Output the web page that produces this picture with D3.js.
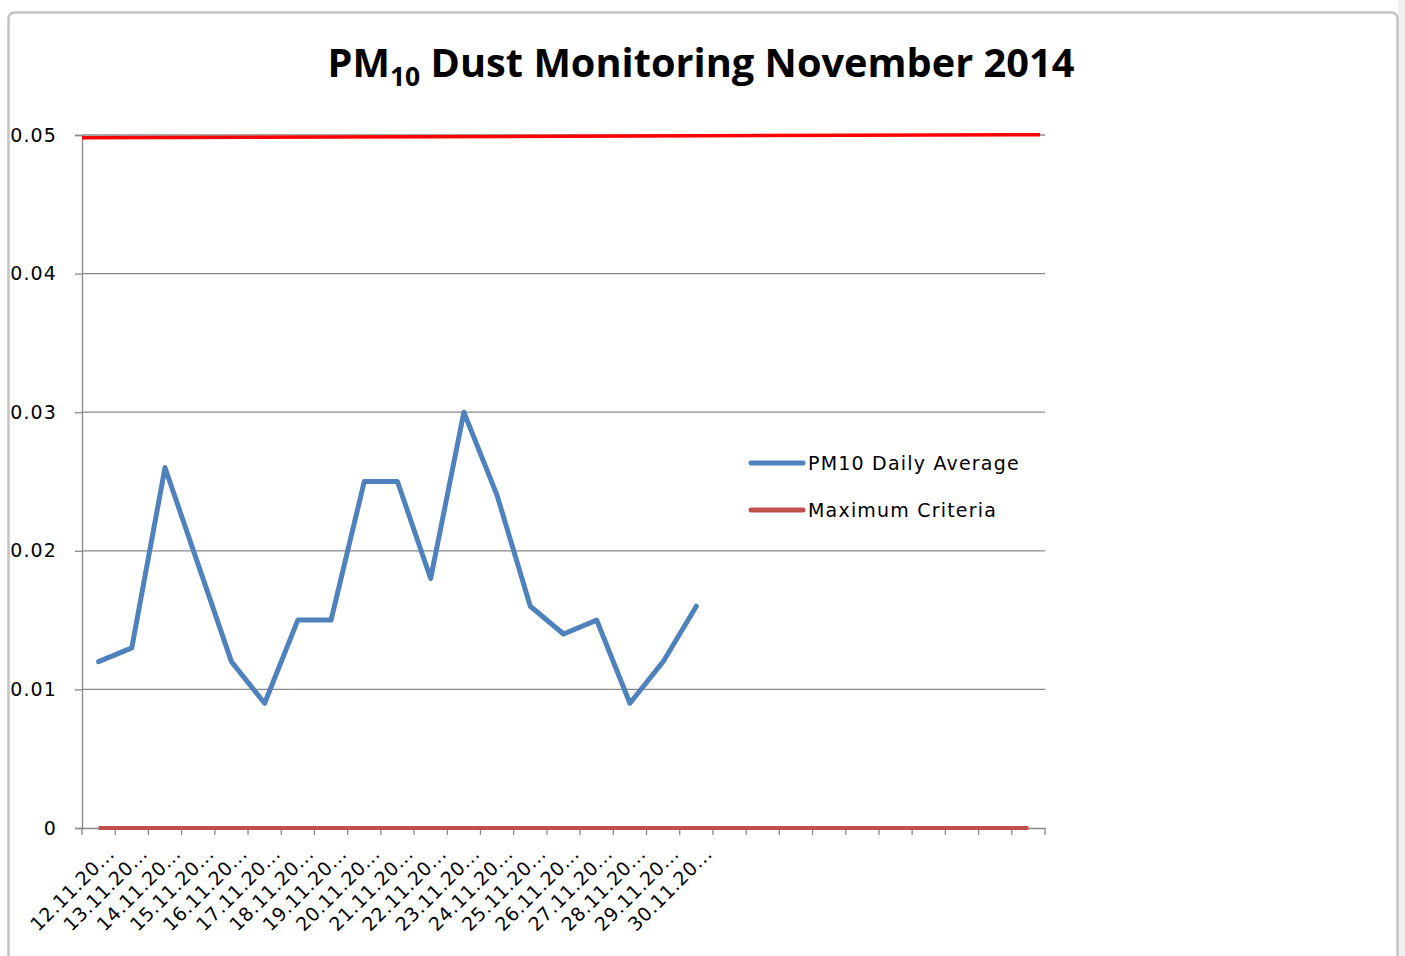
<!DOCTYPE html>
<html><head><meta charset="utf-8">
<script src="https://cdn.jsdelivr.net/npm/d3@7"></script>
<style>html,body{margin:0;padding:0;background:#fff;}svg{display:block;}</style>
</head><body>
<svg id="c" width="1405" height="956"></svg>
<script>
const categoryCount = 29;
const dateLabels = ["12.11.20...","13.11.20...","14.11.20...","15.11.20...","16.11.20...","17.11.20...","18.11.20...","19.11.20...","20.11.20...","21.11.20...","22.11.20...","23.11.20...","24.11.20...","25.11.20...","26.11.20...","27.11.20...","28.11.20...","29.11.20...","30.11.20..."];
const pm10Daily = [0.012,0.013,0.026,0.019,0.012,0.009,0.015,0.015,0.025,0.025,0.018,0.030,0.024,0.016,0.014,0.015,0.009,0.012,0.016];
const maximumCriteria = new Array(29).fill(0);
const criteriaShape = [0.0498, 0.05002];
const yTicks = [0,0.01,0.02,0.03,0.04,0.05];
const yTickLabels = ["0","0.01","0.02","0.03","0.04","0.05"];

const svg = d3.select("#c");
// frame
svg.append("rect").attr("x",1398).attr("y",0).attr("width",7).attr("height",956).attr("fill","#f0f0f0");
svg.append("rect").attr("x",8.5).attr("y",12.5).attr("width",1389).attr("height",960).attr("rx",6)
  .attr("fill","#fff").attr("stroke","#c4c4c4").attr("stroke-width",2.5);

const L=82, R=1045, T=135, B=828;
const x = d3.scaleBand().domain(d3.range(categoryCount)).range([L,R]);
const y = d3.scaleLinear().domain([0,0.05]).range([B,T]);

// gridlines
svg.append("g").selectAll("line").data(yTicks.slice(1)).join("line")
  .attr("x1",L).attr("x2",R).attr("y1",d=>y(d)).attr("y2",d=>y(d))
  .attr("stroke","#888").attr("stroke-width",1.3);

// y axis
const ya = svg.append("g").attr("transform",`translate(${L},0)`)
  .call(d3.axisLeft(y).tickValues(yTicks).tickFormat((d,i)=>yTickLabels[i]).tickSize(7).tickPadding(18));
ya.select(".domain").attr("stroke","#888").attr("stroke-width",1.3);
ya.selectAll(".tick line").attr("stroke","#888").attr("stroke-width",1.3);
ya.selectAll("text").attr("font-family","DejaVu Sans").attr("font-size",19).attr("letter-spacing",1.1).attr("fill","#000");

// x axis
const xa = svg.append("g").attr("transform",`translate(0,${B})`)
  .call(d3.axisBottom(x).tickValues([]).tickSizeOuter(0));
xa.select(".domain").attr("stroke","#888").attr("stroke-width",1.3);
const tickPos = d3.range(categoryCount+1).map(i=> L + i*x.step());
xa.append("g").selectAll("line").data(tickPos).join("line")
  .attr("x1",d=>d).attr("x2",d=>d).attr("y1",0).attr("y2",7).attr("stroke","#888").attr("stroke-width",1.3);
xa.append("g").selectAll("text").data(dateLabels).join("text")
  .attr("transform",(d,i)=>`translate(${x(i)+x.bandwidth()/2+17},${27}) rotate(-45)`)
  .attr("text-anchor","end").attr("font-family","DejaVu Sans").attr("font-size",19).attr("letter-spacing",0.6).attr("fill","#000")
  .text(d=>d);

// maximum criteria series (zero line)
const lineGen = d3.line().x((d,i)=>x(i)+x.bandwidth()/2).y(d=>y(d));
svg.append("path").datum(maximumCriteria).attr("d",lineGen).attr("fill","none")
  .attr("stroke","#C0504D").attr("stroke-width",4);

// drawn red criteria line at 0.05
svg.append("line").attr("x1",L).attr("x2",1040).attr("y1",y(criteriaShape[0])).attr("y2",y(criteriaShape[1]))
  .attr("stroke","#FF0000").attr("stroke-width",3.5);

// PM10 series
svg.append("path").datum(pm10Daily).attr("d",lineGen).attr("fill","none")
  .attr("stroke","#4F81BD").attr("stroke-width",5).attr("stroke-linejoin","round").attr("stroke-linecap","round");

// legend
const legend = [{name:"PM10 Daily Average",color:"#4F81BD"},{name:"Maximum Criteria",color:"#C0504D"}];
const lg = svg.append("g");
legend.forEach((d,i)=>{
  const yy = 463 + i*47;
  lg.append("line").attr("x1",751).attr("x2",803).attr("y1",yy).attr("y2",yy)
    .attr("stroke",d.color).attr("stroke-width",5).attr("stroke-linecap","round");
  lg.append("text").attr("x",808).attr("y",yy+7).attr("font-family","DejaVu Sans").attr("font-size",19)
    .attr("letter-spacing",1.2).attr("fill","#000").text(d.name);
});

// title
const title = svg.append("text").attr("x",701).attr("y",77).attr("text-anchor","middle")
  .attr("font-family","Open Sans").attr("font-weight","bold").attr("font-size",39).attr("fill","#000")
  .attr("textLength",747).attr("lengthAdjust","spacingAndGlyphs");
title.append("tspan").text("PM");
title.append("tspan").attr("font-size",26).attr("dy",9).text("10");
title.append("tspan").attr("dy",-9).text(" Dust Monitoring November 2014");
</script>
</body></html>
